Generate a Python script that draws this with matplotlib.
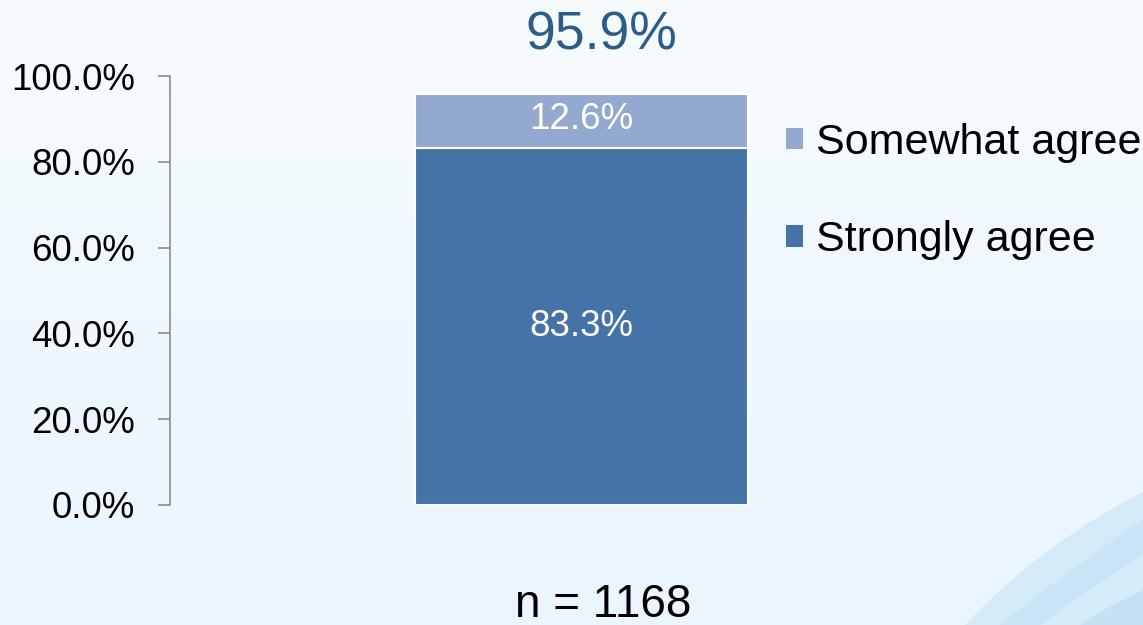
import numpy as np
import matplotlib.pyplot as plt
from matplotlib.ticker import FuncFormatter

# data
categories = ['']
strongly_agree = [83.3]
somewhat_agree = [12.6]
total_label = '95.9%'
n_label = 'n = 1168'
series_names = ['Strongly agree', 'Somewhat agree']
y_ticks = [0, 20, 40, 60, 80, 100]

plt.rcParams['font.family'] = ['Liberation Sans', 'DejaVu Sans']

W, H = 1143, 625
fig = plt.figure(figsize=(W / 100, H / 100), dpi=100)

# background: soft vertical gradient + swoosh bottom right
bg = fig.add_axes([0, 0, 1, 1], zorder=-5)
grad = np.linspace(0, 1, 256).reshape(-1, 1)
top = np.array([0.965, 0.984, 0.996])
bot = np.array([0.918, 0.961, 0.992])
img = top + (bot - top) * grad[..., None]
bg.imshow(img, extent=[0, W, H, 0], aspect='auto')
bg.set_xlim(0, W)
bg.set_ylim(H, 0)
bg.axis('off')


def curve(p0, p1, ctrl, n=80):
    t = np.linspace(0, 1, n)[:, None]
    p0, p1, ctrl = map(np.array, (p0, p1, ctrl))
    return (1 - t) ** 2 * p0 + 2 * (1 - t) * t * ctrl + t ** 2 * p1


bands = [
    ((965, 625), (1143, 492), (1040, 545), '#d4eaf8'),
    ((1000, 625), (1143, 520), (1075, 565), '#c9e4f6'),
    ((1040, 625), (1143, 555), (1095, 585), '#d6ebf9'),
    ((1080, 625), (1143, 590), (1110, 605), '#c4e1f5'),
]
for p0, p1, c, col in bands:
    pts = curve(p0, p1, c)
    poly = np.vstack([pts, [[W, H]]])
    bg.fill(poly[:, 0], poly[:, 1], color=col, lw=0)

# main chart
ax = fig.add_axes([170 / W, 120 / H, 823 / W, 429 / H])
ax.patch.set_alpha(0)
x = np.arange(len(categories))
width = 0.807
b1 = ax.bar(x, strongly_agree, width, color='#4572a7', edgecolor='white',
            linewidth=1.5, label=series_names[0])
b2 = ax.bar(x, somewhat_agree, width, bottom=strongly_agree, color='#93a9cf',
            edgecolor='white', linewidth=1.5, label=series_names[1])

for i in range(len(categories)):
    ax.text(x[i], strongly_agree[i] / 2, f'{strongly_agree[i]:.1f}%',
            ha='center', va='center', color='white', fontsize=26.5)
    ax.text(x[i], strongly_agree[i] + somewhat_agree[i] / 2 + 0.3,
            f'{somewhat_agree[i]:.1f}%', ha='center', va='center',
            color='white', fontsize=26.5)

ax.set_xlim(-1, 1)
ax.set_ylim(0, 100)
ax.set_yticks(y_ticks)
ax.yaxis.set_major_formatter(FuncFormatter(lambda v, p: f'{v:.1f}%'))
ax.tick_params(axis='y', direction='out', length=9, width=1.2, color='#8c8c8c',
               labelsize=26.5, pad=16)
ax.set_xticks([])
for s in ['top', 'right', 'bottom']:
    ax.spines[s].set_visible(False)
ax.spines['left'].set_color('#8c8c8c')
ax.spines['left'].set_linewidth(1.2)

fig.text(601 / W, 1 - 35 / H, total_label, ha='center', va='center',
         fontsize=38.5, color='#2e5c8a')
fig.text(603 / W, 1 - 605 / H, n_label, ha='center', va='center',
         fontsize=33, color='black')

leg = fig.legend([b2, b1], [series_names[1], series_names[0]],
                 loc='upper left', bbox_to_anchor=(786 / W, 1 - 123 / H),
                 frameon=False, fontsize=31, handlelength=0.4,
                 handleheight=0.4, handletextpad=0.3, labelspacing=1.33,
                 borderaxespad=0, borderpad=0)
for h in leg.legend_handles:
    h.set_edgecolor('none')

fig.savefig('out.png', dpi=100)
